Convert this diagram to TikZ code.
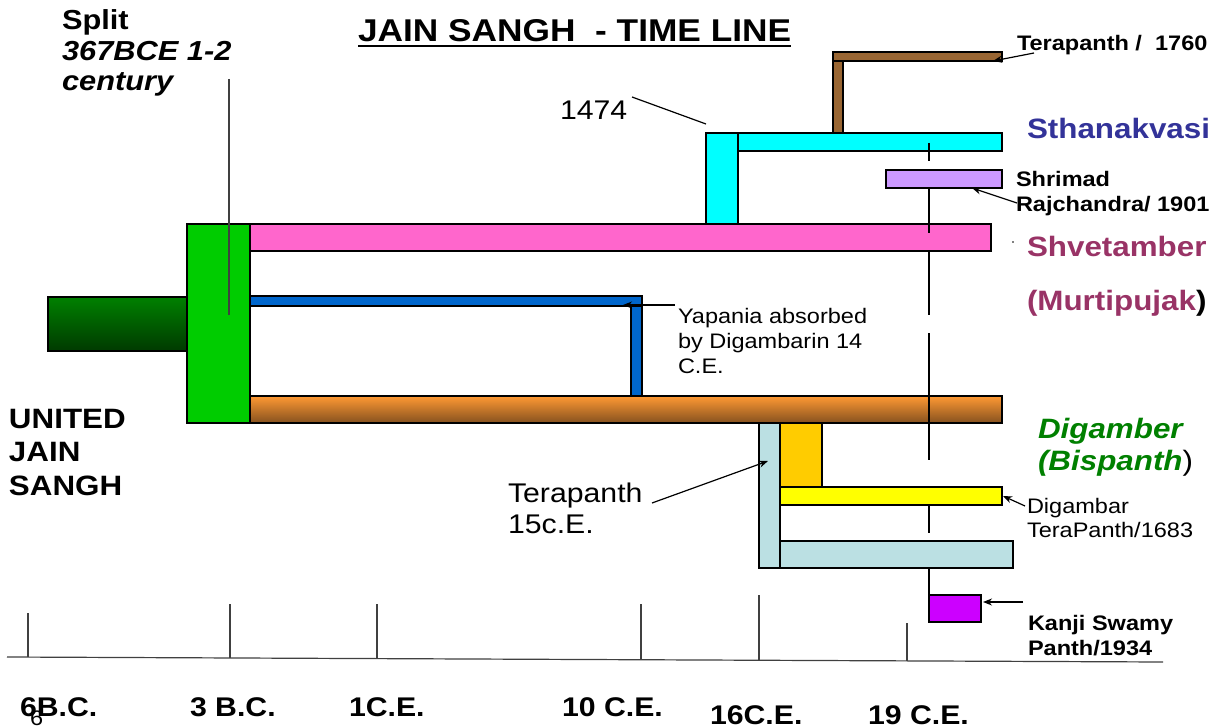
\documentclass[tikz,border=0pt]{standalone}
\usepackage{fontspec}
\setmainfont{Liberation Sans}[FakeStretch=1.12]
\usetikzlibrary{arrows.meta}
\definecolor{cGreen}{HTML}{00CC00}
\definecolor{cDkGreenT}{HTML}{008000}
\definecolor{cDkGreenB}{HTML}{003A00}
\definecolor{cPink}{HTML}{FF66CC}
\definecolor{cBlue}{HTML}{0066CC}
\definecolor{cOrangeT}{HTML}{FF9933}
\definecolor{cOrangeB}{HTML}{85511F}
\definecolor{cCyan}{HTML}{00FFFF}
\definecolor{cBrown}{HTML}{996633}
\definecolor{cLav}{HTML}{CC99FF}
\definecolor{cTeal}{HTML}{BBE0E3}
\definecolor{cGold}{HTML}{FFCC00}
\definecolor{cYellow}{HTML}{FFFF00}
\definecolor{cMag}{HTML}{CC00FF}
\definecolor{cSthan}{HTML}{333399}
\definecolor{cShvet}{HTML}{993366}
\definecolor{cDig}{HTML}{008000}
\definecolor{cGrey}{HTML}{404040}
\newcommand\fsz[2]{\fontsize{#1}{#2}\selectfont}
\tikzset{
  bar/.style={draw=black, line width=1.2pt},
  lbl/.style={inner sep=0pt, outer sep=0pt, anchor=base west, align=left},
  arr/.style={line width=1.2pt, -{Stealth[length=9pt,width=7pt]}},
  thin/.style={line width=1.2pt, draw=cGrey},
  vline/.style={line width=1.2pt, draw=black},
}
\begin{document}
\begin{tikzpicture}[x=1pt,y=-1pt]
\useasboundingbox[fill=white] (0,0) rectangle (1228,727);

% ---- title
\node[lbl, font=\bfseries\fsz{31.5}{36}] (title) at (358,42) {JAIN SANGH~~- TIME LINE};
\draw[line width=2pt] ([yshift=-4pt]title.base west) -- ([yshift=-4pt]title.base east);

% ---- split label (base = last line)
\node[lbl, font=\bfseries\fsz{27.5}{30.5}] (split) at (62,91) {Split\\\textit{367BCE 1-2}\\\textit{century}};

% ---- bars
\shade[top color=cDkGreenT, bottom color=cDkGreenB, draw=black, line width=1.2pt] (48,297) rectangle (187,351);
\filldraw[bar, fill=cGreen] (187,224) rectangle (250,423);
\filldraw[bar, fill=cPink] (250,224) rectangle (991,251);
\shade[top color=cOrangeT, bottom color=cOrangeB, draw=black, line width=1.2pt] (250,396) rectangle (1002,423);
\filldraw[bar, fill=cBlue] (250,296) rectangle (642,306);
\filldraw[bar, fill=cBlue] (631,306) rectangle (642,396);
\filldraw[bar, fill=cCyan] (706,133) rectangle (738,224);
\filldraw[bar, fill=cCyan] (738,133) rectangle (1002,151);
\filldraw[bar, fill=cBrown] (833,61) rectangle (843,133);
\filldraw[bar, fill=cBrown] (833,52) rectangle (1002,61);
\filldraw[bar, fill=cLav] (886,170) rectangle (1002,188);
\filldraw[bar, fill=cTeal] (759,423) rectangle (780,568);
\filldraw[bar, fill=cTeal] (780,541) rectangle (1013,568);
\filldraw[bar, fill=cGold] (780,423) rectangle (822,487);
\filldraw[bar, fill=cYellow] (780,487) rectangle (1002,505);
\filldraw[bar, fill=cMag] (929,595) rectangle (981,622);

% ---- split vertical line
\draw[thin] (229,79) -- (229,315);

% ---- 19th-century marker line (broken)
\foreach \a/\b in {143/161, 188/233, 252/315, 333/460, 505/533, 568/595}
  \draw[vline] (929,\a) -- (929,\b);

% ---- axis
\draw[line width=1.2pt, draw=cGrey] (7,657) -- (1163,662);
\foreach \x/\t in {28/613, 230/604, 377/604, 641/604, 759/595, 907/623}
  \draw[thin] (\x,\t) -- (\x,{657+(\x-7)*5/1156});

% ---- axis labels
\node[lbl, font=\bfseries\fsz{27}{30}] (l6bc) at (20,716) {6B.C.};
\node[lbl, font=\fsz{21}{24}] (l6) at (30,725) {6};
\node[lbl, font=\bfseries\fsz{27}{30}] (l3bc) at (190,716) {3 B.C.};
\node[lbl, font=\bfseries\fsz{27}{30}] (l1ce) at (349,716) {1C.E.};
\node[lbl, font=\bfseries\fsz{27}{30}] (l10ce) at (562,716) {10 C.E.};
\node[lbl, font=\bfseries\fsz{27}{30}] (l16ce) at (710,724) {16C.E.};
\node[lbl, font=\bfseries\fsz{27}{30}] (l19ce) at (868,724) {19 C.E.};

% ---- left label
\node[lbl, font=\bfseries\fsz{28}{33.5}] (united) at (9,495) {UNITED\\JAIN\\SANGH};

% ---- 1474
\node[lbl, font=\fsz{27}{30}] (y1474) at (560,120) {1474};
\coordinate (c1474a) at (632,97);
\coordinate (c1474b) at (706,124);
\draw[line width=1.2pt] (c1474a) -- (c1474b);

% ---- Yapania
\node[lbl, font=\fsz{21}{25}] (yapania) at (678,373) {Yapania absorbed\\by Digambarin 14\\C.E.};
\coordinate (yapA) at (675,305);
\coordinate (yapB) at (623,305);
\draw[arr] (yapA) -- (yapB);

% ---- Terapanth 15c.E.
\node[lbl, font=\fsz{27}{31}] (tera15) at (508,533) {Terapanth\\15c.E.};
\coordinate (t15A) at (652,503);
\coordinate (t15B) at (768,461);
\draw[arr] (t15A) -- (t15B);

% ---- right side labels
\node[lbl, font=\bfseries\fsz{21}{25}] (tera1760) at (1017,51) {Terapanth /~~1760};
\coordinate (t1760A) at (1034,53);
\coordinate (t1760B) at (993,61);
\draw[arr] (t1760A) -- (t1760B);

\node[lbl, font=\bfseries\fsz{28}{32}, text=cSthan] (sthan) at (1027,139) {Sthanakvasi};

\node[lbl, font=\bfseries\fsz{21}{25}] (shrimad) at (1016,212) {Shrimad\\Rajchandra/ 1901};
\coordinate (shrA) at (1017,203);
\coordinate (shrB) at (972,188);
\draw[arr] (shrA) -- (shrB);

\node[lbl, font=\bfseries\fsz{28}{54}] (shvet) at (1027,310) {\textcolor{cShvet}{Shvetamber}\\\textcolor{cShvet}{(Murtipujak})};
\fill (1013,242) circle (0.8pt);

\node[lbl, font=\bfseries\itshape\fsz{28}{32}, text=cDig] (digamber) at (1038,470) {Digamber\\(Bispanth\textcolor{black}{\normalfont)}};

\node[lbl, font=\fsz{21}{24}] (digtera) at (1027,537) {Digambar\\TeraPanth/1683};
\coordinate (dtA) at (1025,506);
\coordinate (dtB) at (1003,496);
\draw[arr] (dtA) -- (dtB);

\node[lbl, font=\bfseries\fsz{21}{25}] (kanji) at (1028,655) {Kanji Swamy\\Panth/1934};
\coordinate (kA) at (1023,602);
\coordinate (kB) at (983,602);
\draw[arr] (kA) -- (kB);
\end{tikzpicture}
\end{document}
